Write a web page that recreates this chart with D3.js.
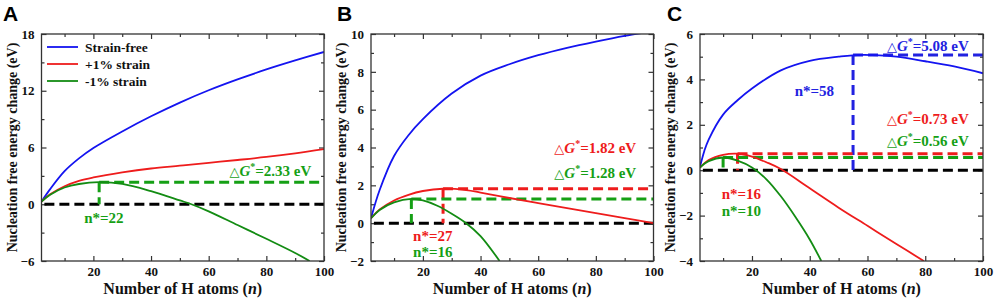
<!DOCTYPE html>
<html><head><meta charset="utf-8">
<script src="https://cdn.jsdelivr.net/npm/d3@7"></script>
<style>
body{margin:0;background:#fff} svg{display:block}
.sf{font-family:"Liberation Serif","Times New Roman",Times,"DejaVu Serif",serif;font-weight:bold}
.ss{font-family:"Liberation Sans",Arial,"DejaVu Sans",sans-serif;font-weight:bold}
</style>
</head><body>
<svg id="chart" width="996" height="304"></svg>
<script>
// ---------- DATA ----------
const seriesNames = ["Strain-free", "+1% strain", "-1% strain"];

// Panel A
const nA_free  = [2, 5, 10, 15, 20, 30, 40, 50, 60, 70, 80, 90, 100];
const gA_free  = [0.28, 1.6, 3.5, 4.85, 5.95, 7.7, 9.3, 10.75, 12.05, 13.2, 14.25, 15.2, 16.1];
const nA_plus  = [2, 5, 10, 15, 20, 30, 40, 50, 60, 70, 80, 90, 100];
const gA_plus  = [0.28, 1.05, 1.9, 2.47, 2.83, 3.36, 3.78, 4.08, 4.38, 4.68, 5.0, 5.38, 5.83];
const nA_minus = [2, 5, 10, 15, 22, 30, 40, 50, 54, 60, 70, 80, 90, 95];
const gA_minus = [0.28, 1.0, 1.77, 2.14, 2.33, 2.15, 1.38, 0.4, 0, -0.75, -2.2, -3.65, -5.15, -6.0];

// Panel B
const nB_free  = [2, 5, 10, 15, 20, 30, 40, 50, 60, 70, 80, 90, 100];
const gB_free  = [0.26, 1.75, 3.55, 4.65, 5.5, 6.85, 7.8, 8.4, 8.88, 9.27, 9.6, 9.9, 10.15];
const nB_plus  = [2, 5, 10, 15, 20, 27, 35, 40, 50, 60, 70, 80, 90, 100];
const gB_plus  = [0.26, 0.72, 1.2, 1.5, 1.7, 1.82, 1.75, 1.62, 1.33, 1.06, 0.8, 0.53, 0.27, 0.0];
const nB_minus = [2, 5, 10, 16, 20, 25, 30, 35, 40, 46.6];
const gB_minus = [0.26, 0.7, 1.1, 1.28, 1.2, 0.92, 0.5, 0.0, -0.68, -2.0];

// Panel C
const nC_free  = [2, 3.5, 5, 10, 15, 20, 30, 40, 50, 58, 70, 80, 90, 100];
const gC_free  = [0.15, 0.85, 1.35, 2.45, 3.08, 3.6, 4.4, 4.82, 5.0, 5.08, 5.0, 4.8, 4.57, 4.27];
const nC_plus  = [2, 5, 10, 15, 20, 25, 30, 40, 50, 60, 70, 79.5];
const gC_plus  = [0.12, 0.45, 0.68, 0.73, 0.6, 0.35, 0.05, -0.8, -1.65, -2.45, -3.25, -4.0];
const nC_minus = [2, 5, 10, 15, 20, 25, 30, 35, 40, 44];
const gC_minus = [0.12, 0.4, 0.56, 0.42, 0.12, -0.4, -1.15, -2.05, -3.05, -4.0];

// critical points (marker position n, barrier ΔG*, label n*)
const peaksA = [{s: 2, n: 22, g: 2.33, label: "22"}];
const peaksB = [{s: 1, n: 27, g: 1.82, label: "27"}, {s: 2, n: 16, g: 1.28, label: "16"}];
const peaksC = [{s: 0, n: 55, g: 5.08, label: "58"}, {s: 1, n: 15, g: 0.73, label: "16"}, {s: 2, n: 10, g: 0.56, label: "10"}];

// axis ticks
const xTicks = [20, 40, 60, 80, 100];
const xMinor = [10, 30, 50, 70, 90];
const yTicksA = [-6, 0, 6, 12, 18],  yMinorA = [-3, 3, 9, 15];
const yTicksB = [-2, 0, 2, 4, 6, 8, 10], yMinorB = [-1, 1, 3, 5, 7, 9];
const yTicksC = [-4, -2, 0, 2, 4, 6], yMinorC = [-3, -1, 1, 3, 5];

// ---------- LAYOUT / STYLE ----------
const colors = ["#1414f0", "#ee1c1c", "#138c13"];
const dashColors = ["#2222e0", "#ee1c1c", "#15a015"];
const plotTop = 34, plotBottom = 261;

const panels = [
  {letter: "A", lx: 3, left: 41.5, right: 324, yDomain: [-6, 18], yTicks: yTicksA, yMinor: yMinorA,
   data: [[nA_free, gA_free], [nA_plus, gA_plus], [nA_minus, gA_minus]], peaks: peaksA, legend: true,
   gLabels: [{s: 2, n: 95.6, v: 3.0}], nLabels: [{s: 2, n: 16.8, v: -1.98}]},
  {letter: "B", lx: 337, left: 371, right: 653.5, yDomain: [-2, 10], yTicks: yTicksB, yMinor: yMinorB,
   data: [[nB_free, gB_free], [nB_plus, gB_plus], [nB_minus, gB_minus]], peaks: peaksB, legend: false,
   gLabels: [{s: 1, n: 94, v: 3.71}, {s: 2, n: 94, v: 2.39}],
   nLabels: [{s: 1, n: 16.6, v: -0.94}, {s: 2, n: 16.6, v: -1.79}]},
  {letter: "C", lx: 667, left: 700, right: 983, yDomain: [-4, 6], yTicks: yTicksC, yMinor: yMinorC,
   data: [[nC_free, gC_free], [nC_plus, gC_plus], [nC_minus, gC_minus]], peaks: peaksC, legend: false,
   gLabels: [{s: 0, n: 95.1, v: 5.25}, {s: 1, n: 95.1, v: 2.04}, {s: 2, n: 95.1, v: 1.07}],
   nLabels: [{s: 0, n: 34.8, v: 3.27}, {s: 1, n: 9.5, v: -1.27}, {s: 2, n: 9.5, v: -2.02}]}
];

const svg = d3.select("#chart");

panels.forEach((p, pi) => {
  const x = d3.scaleLinear().domain([2, 100]).range([p.left, p.right]);
  const y = d3.scaleLinear().domain(p.yDomain).range([plotBottom, plotTop]);
  const g = svg.append("g");

  const cid = "clip" + pi;
  svg.append("clipPath").attr("id", cid).append("rect")
    .attr("x", p.left).attr("y", plotTop).attr("width", p.right - p.left).attr("height", plotBottom - plotTop);

  const styleAxis = sel => {
    sel.attr("font-family", null).attr("font-size", null);
    sel.select(".domain").remove();
    sel.selectAll("line").attr("stroke", "#333").attr("stroke-width", 1.2);
    sel.selectAll("text").attr("class", "sf").attr("font-size", 13).attr("fill", "#111");
  };
  g.append("g").attr("transform", `translate(0,${plotBottom})`)
    .call(d3.axisBottom(x).tickValues(xTicks).tickSizeInner(-5).tickSizeOuter(0).tickPadding(6)).call(styleAxis);
  g.append("g").attr("transform", `translate(0,${plotBottom})`)
    .call(d3.axisBottom(x).tickValues(xMinor).tickSizeInner(-3).tickSizeOuter(0).tickFormat("")).call(styleAxis);
  g.append("g").attr("transform", `translate(0,${plotTop})`)
    .call(d3.axisTop(x).tickValues(xTicks).tickSizeInner(-5).tickSizeOuter(0).tickFormat("")).call(styleAxis);
  g.append("g").attr("transform", `translate(0,${plotTop})`)
    .call(d3.axisTop(x).tickValues(xMinor).tickSizeInner(-3).tickSizeOuter(0).tickFormat("")).call(styleAxis);
  g.append("g").attr("transform", `translate(${p.left},0)`)
    .call(d3.axisLeft(y).tickValues(p.yTicks).tickSizeInner(-5).tickSizeOuter(0).tickPadding(7)).call(styleAxis);
  g.append("g").attr("transform", `translate(${p.left},0)`)
    .call(d3.axisLeft(y).tickValues(p.yMinor).tickSizeInner(-3).tickSizeOuter(0).tickFormat("")).call(styleAxis);
  g.append("g").attr("transform", `translate(${p.right},0)`)
    .call(d3.axisRight(y).tickValues(p.yTicks).tickSizeInner(-5).tickSizeOuter(0).tickFormat("")).call(styleAxis);
  g.append("g").attr("transform", `translate(${p.right},0)`)
    .call(d3.axisRight(y).tickValues(p.yMinor).tickSizeInner(-3).tickSizeOuter(0).tickFormat("")).call(styleAxis);

  const plot = g.append("g").attr("clip-path", `url(#${cid})`);

  plot.append("line").attr("x1", x(3)).attr("x2", x(100)).attr("y1", y(0)).attr("y2", y(0))
    .attr("stroke", "#000").attr("stroke-width", 3).attr("stroke-dasharray", "10,5");

  p.peaks.forEach(pk => {
    plot.append("line").attr("x1", x(pk.n)).attr("x2", x(100)).attr("y1", y(pk.g)).attr("y2", y(pk.g))
      .attr("stroke", dashColors[pk.s]).attr("stroke-width", 3).attr("stroke-dasharray", "10,5");
    plot.append("line").attr("x1", x(pk.n)).attr("x2", x(pk.n)).attr("y1", y(pk.g)).attr("y2", y(0))
      .attr("stroke", dashColors[pk.s]).attr("stroke-width", 3).attr("stroke-dasharray", "10,5");
  });

  const line = d3.line().x(d => x(d[0])).y(d => y(d[1])).curve(d3.curveCatmullRom.alpha(0.5));
  p.data.forEach((ser, si) => {
    const pts = ser[0].map((n, i) => [n, ser[1][i]]);
    plot.append("path").datum(pts).attr("d", line).attr("fill", "none")
      .attr("stroke", colors[si]).attr("stroke-width", 1.8);
  });

  g.append("rect").attr("x", p.left).attr("y", plotTop).attr("width", p.right - p.left).attr("height", plotBottom - plotTop)
    .attr("fill", "none").attr("stroke", "#333").attr("stroke-width", 1.3);

  p.gLabels.forEach(lb => {
    const pk = p.peaks.find(q => q.s === lb.s);
    const t = g.append("text").attr("class", "sf").attr("x", x(lb.n)).attr("y", y(lb.v)).attr("text-anchor", "end")
      .attr("font-size", 15).attr("fill", dashColors[lb.s]);
    t.append("tspan").style("font-weight", "normal").style("font-family", "'DejaVu Sans',sans-serif").attr("font-size", 13).text("△");
    t.append("tspan").style("font-style", "italic").text("G");
    t.append("tspan").attr("font-size", 10).attr("dy", -6).text("*");
    t.append("tspan").attr("dy", 6).text("=" + pk.g.toFixed(2) + " eV");
  });
  p.nLabels.forEach(lb => {
    const pk = p.peaks.find(q => q.s === lb.s);
    g.append("text").attr("class", "sf").attr("x", x(lb.n)).attr("y", y(lb.v))
      .attr("font-size", 15).attr("fill", dashColors[lb.s])
      .text("n*=" + pk.label);
  });

  const cx = (p.left + p.right) / 2;
  const xt = g.append("text").attr("class", "sf").attr("x", cx).attr("y", 294).attr("text-anchor", "middle")
    .attr("font-size", 16).attr("fill", "#111");
  xt.append("tspan").text("Number of H atoms (");
  xt.append("tspan").style("font-style", "italic").text("n");
  xt.append("tspan").text(")");
  g.append("text").attr("class", "sf").attr("transform", `translate(${p.left - 25},${(plotTop + plotBottom) / 2}) rotate(-90)`)
    .attr("text-anchor", "middle").attr("font-size", 14)
    .attr("fill", "#111").text("Nucleation free energy change (eV)");

  g.append("text").attr("class", "ss").attr("x", p.lx).attr("y", 21)
    .attr("font-size", 21).attr("fill", "#000").text(p.letter);

  if (p.legend) {
    seriesNames.forEach((nm, i) => {
      const yy = 47 + i * 17;
      g.append("line").attr("x1", 47).attr("x2", 78).attr("y1", yy).attr("y2", yy)
        .attr("stroke", colors[i]).attr("stroke-width", 1.8);
      g.append("text").attr("class", "sf").attr("x", 85).attr("y", yy + 4.5)
        .attr("font-size", 13.5).attr("fill", "#111").text(nm);
    });
  }
});
</script>
</body></html>
